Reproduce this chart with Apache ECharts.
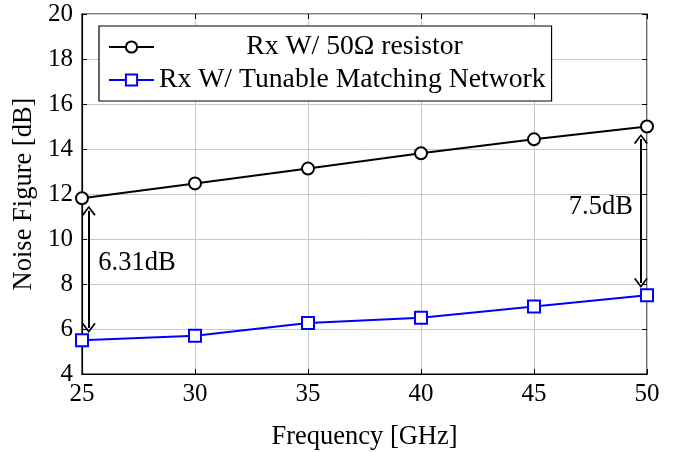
<!DOCTYPE html>
<html>
<head>
<meta charset="utf-8">
<script src="https://cdn.jsdelivr.net/npm/echarts@6/dist/echarts.min.js"></script>
<style>
  html, body { margin: 0; padding: 0; background: #fff; }
  #chart { width: 685px; height: 452px; }
</style>
</head>
<body>
<div id="chart"></div>
<script>
const freqs = [25, 30, 35, 40, 45, 50];
const resistorNF = [11.81, 12.47, 13.13, 13.81, 14.43, 15.0];
const tunableNF = [5.5, 5.7, 6.27, 6.5, 7.0, 7.5];
const seriesNames = ['Rx W/ 50\u03a9 resistor', 'Rx W/ Tunable Matching Network'];
const gapLabels = ['6.31dB', '7.5dB'];

const FONT = "'Liberation Serif', 'Times New Roman', serif";
const FS = 26.5;
const TICK_FS = 25;
const LEG_FS = 27.7;
const arrowHead = 'path://M5,0 L10,9 L8.8,9.8 L5,2.6 L1.2,9.8 L0,9 Z';

const pairs = (ys) => freqs.map((f, i) => [f, ys[i]]);
const last = freqs.length - 1;
const gap = 0.55;

const chart = echarts.init(document.getElementById('chart'));

const mirrorAxis = {
  axisLine: { show: false },
  axisTick: { show: true, inside: true, length: 5, lineStyle: { color: '#000', width: 1 } },
  axisLabel: { show: false },
  splitLine: { show: false }
};

chart.setOption({
  animation: false,
  backgroundColor: '#fff',
  textStyle: { fontFamily: FONT },
  grid: {
    left: 82, right: 38, top: 14, bottom: 78,
    containLabel: false,
    outerBoundsMode: 'none',
    show: true, borderColor: '#000', borderWidth: 1.2
  },
  legend: {
    left: 99, top: 26,
    orient: 'vertical',
    backgroundColor: '#fff',
    borderColor: '#000',
    borderWidth: 1.2,
    padding: [7, 6, 7, 9],
    itemGap: 5,
    itemWidth: 45,
    itemHeight: 14,
    selectedMode: false,
    formatter: (name) => (name === seriesNames[0] ? `{c|${name}}` : `{l|${name}}`),
    textStyle: {
      fontFamily: FONT, fontSize: LEG_FS, color: '#000',
      rich: {
        c: { fontFamily: FONT, fontSize: LEG_FS, width: 391, align: 'center' },
        l: { fontFamily: FONT, fontSize: LEG_FS, width: 391, align: 'left' }
      }
    },
    data: seriesNames
  },
  xAxis: [
    {
      type: 'value', min: 25, max: 50, interval: 5,
      name: 'Frequency [GHz]', nameLocation: 'middle', nameGap: 50,
      nameTextStyle: { fontFamily: FONT, fontSize: FS, color: '#000' },
      axisLine: { show: true, onZero: false, lineStyle: { color: '#000', width: 1.2 } },
      axisTick: { show: true, inside: true, length: 5, lineStyle: { color: '#000' } },
      axisLabel: { fontFamily: FONT, fontSize: TICK_FS, color: '#000', margin: 8 },
      splitLine: { show: true, lineStyle: { color: '#c8c8c8', width: 1 } }
    },
    Object.assign({ type: 'value', min: 25, max: 50, interval: 5, position: 'top' }, mirrorAxis)
  ],
  yAxis: [
    {
      type: 'value', min: 4, max: 20, interval: 2,
      name: 'Noise Figure [dB]', nameLocation: 'middle', nameGap: 37,
      nameTextStyle: { fontFamily: FONT, fontSize: FS, color: '#000' },
      axisLine: { show: true, onZero: false, lineStyle: { color: '#000', width: 1.2 } },
      axisTick: { show: true, inside: true, length: 5, lineStyle: { color: '#000' } },
      axisLabel: { fontFamily: FONT, fontSize: TICK_FS, color: '#000', margin: 9 },
      splitLine: { show: true, lineStyle: { color: '#c8c8c8', width: 1 } }
    },
    Object.assign({ type: 'value', min: 4, max: 20, interval: 2, position: 'right' }, mirrorAxis)
  ],
  series: [
    {
      name: seriesNames[0],
      type: 'line',
      data: pairs(resistorNF),
      symbol: 'emptyCircle',
      symbolSize: 12,
      color: '#000',
      lineStyle: { color: '#000', width: 2 },
      itemStyle: { color: '#000', borderWidth: 2 },
      z: 3,
      markLine: {
        silent: true,
        symbol: [arrowHead, arrowHead],
        symbolSize: [14, 10],
        label: { show: false },
        lineStyle: { color: '#000', width: 2, type: 'solid' },
        data: [
          [{ coord: [25.3, resistorNF[0] - gap] }, { coord: [25.3, tunableNF[0] + gap] }],
          [{ coord: [49.73, resistorNF[last] - gap] }, { coord: [49.73, tunableNF[last] + gap] }]
        ]
      },
      markPoint: {
        silent: true,
        symbol: 'circle',
        symbolSize: 0,
        label: {
          show: true, position: 'inside',
          fontFamily: FONT, fontSize: FS, color: '#000',
          formatter: (p) => p.name
        },
        data: [
          { name: gapLabels[0], coord: [27.43, 8.93] },
          { name: gapLabels[1], coord: [47.96, 11.42] }
        ]
      }
    },
    {
      name: seriesNames[1],
      type: 'line',
      data: pairs(tunableNF),
      symbol: 'emptyRect',
      symbolSize: 12,
      color: '#0000ff',
      lineStyle: { color: '#0000ff', width: 2 },
      itemStyle: { color: '#0000ff', borderWidth: 2 },
      z: 3
    }
  ]
});

window.addEventListener('resize', () => chart.resize());
</script>
</body>
</html>
